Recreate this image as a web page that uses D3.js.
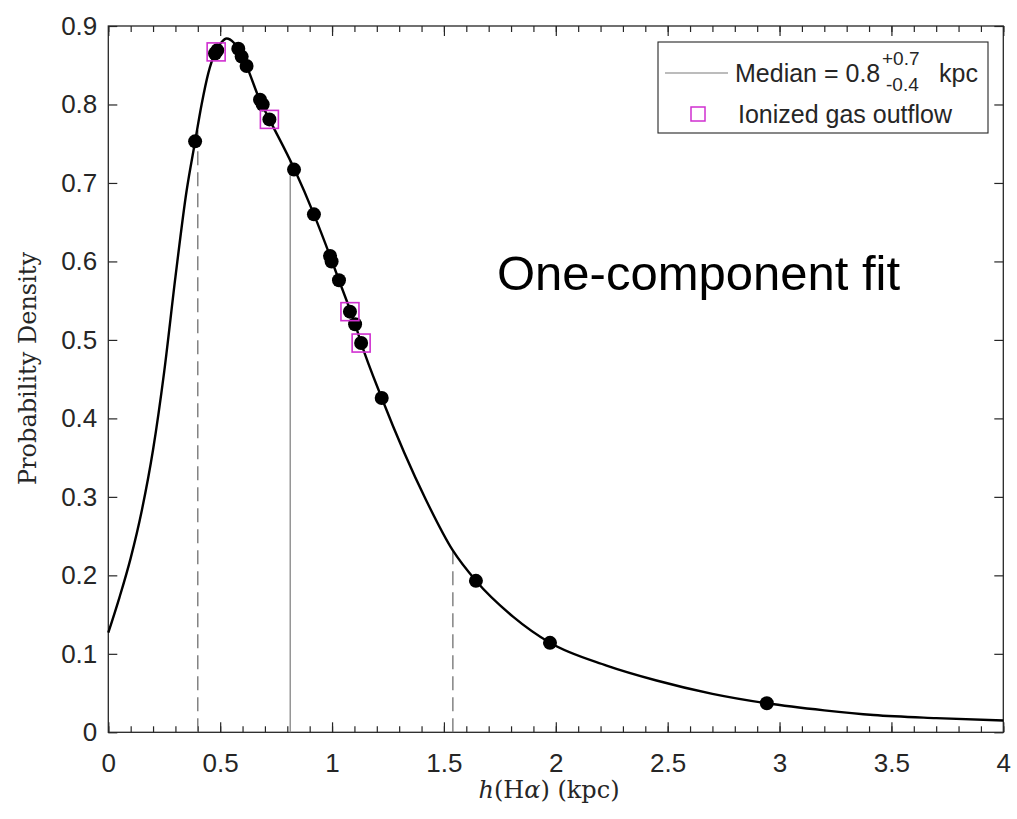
<!DOCTYPE html>
<html><head><meta charset="utf-8">
<script src="https://cdn.jsdelivr.net/npm/d3@7"></script>
<style>body{margin:0;background:#fff}</style>
</head><body>
<svg id="c" width="1017" height="819"></svg>
<script>
// ---- data ----
const curveX = [0, 0.05, 0.1, 0.15, 0.2, 0.25, 0.3, 0.35, 0.388, 0.417, 0.447, 0.477, 0.505, 0.529, 0.56, 0.581, 0.618, 0.678, 0.72, 0.831, 0.919, 0.991, 1.031, 1.103, 1.13, 1.222, 1.42, 1.539, 1.643, 1.81, 1.974, 2.227, 2.45, 2.7, 2.943, 3.2, 3.42, 3.7, 4.0];
const curveY = [0.127, 0.172, 0.222, 0.283, 0.36, 0.46, 0.58, 0.69, 0.753, 0.8, 0.84, 0.866, 0.879, 0.884, 0.879, 0.871, 0.849, 0.805, 0.781, 0.718, 0.660, 0.607, 0.576, 0.520, 0.496, 0.426, 0.296, 0.232, 0.193, 0.147, 0.114, 0.085, 0.066, 0.049, 0.037, 0.028, 0.022, 0.018, 0.015];
const dotX = [0.388, 0.477, 0.487, 0.581, 0.596, 0.618, 0.678, 0.690, 0.720, 0.830, 0.919, 0.991, 0.998, 1.031, 1.080, 1.103, 1.130, 1.222, 1.643, 1.974, 2.943];
const dotY = [0.753, 0.865, 0.869, 0.871, 0.861, 0.849, 0.806, 0.800, 0.781, 0.717, 0.660, 0.607, 0.600, 0.576, 0.536, 0.520, 0.496, 0.426, 0.193, 0.114, 0.037];
const outflowX = [0.482, 0.720, 1.080, 1.130];
const outflowY = [0.867, 0.781, 0.536, 0.496];
const intervalX = [0.40, 1.54];
const intervalTop = [0.772, 0.232];
const medianX = [0.813];
const medianTop = [0.728];
const xTicks = [0, 0.5, 1, 1.5, 2, 2.5, 3, 3.5, 4];
const xTickLabels = ["0", "0.5", "1", "1.5", "2", "2.5", "3", "3.5", "4"];
const xMinorTicks = d3.range(0, 41).map(i => i / 10);
const yTicks = [0, 0.1, 0.2, 0.3, 0.4, 0.5, 0.6, 0.7, 0.8, 0.9];
const yTickLabels = ["0", "0.1", "0.2", "0.3", "0.4", "0.5", "0.6", "0.7", "0.8", "0.9"];
const legendLabels = ["Median = 0.8", "+0.7", "-0.4", "kpc", "Ionized gas outflow"];
const annotation = "One-component fit";

// ---- layout ----
const L = 108.3, R = 1003.3, T = 26, B = 732.3;
const svg = d3.select("#c");
const x = d3.scaleLinear().domain([0, 4]).range([L, R]);
const y = d3.scaleLinear().domain([0, 0.9]).range([B, T]);
const sans = "'Liberation Sans', Arial, Helvetica, sans-serif";
const serif = "'DejaVu Serif', 'Liberation Serif', serif";
const ink = "#262626";

svg.append("rect").attr("width", 1017).attr("height", 819).attr("fill", "#fff");

function styleAxis(g) {
  g.select(".domain").remove();
  g.selectAll(".tick line").attr("stroke", ink).attr("stroke-width", 1.2);
  g.selectAll(".tick text").attr("fill", ink).attr("font-family", sans).attr("font-size", 26);
}
svg.append("g").attr("transform", `translate(0,${B})`)
  .call(d3.axisBottom(x).tickValues(xMinorTicks).tickSize(-6).tickFormat("")).call(styleAxis);
svg.append("g").attr("transform", `translate(0,${T})`)
  .call(d3.axisTop(x).tickValues(xMinorTicks).tickSize(-6).tickFormat("")).call(styleAxis);
svg.append("g").attr("transform", `translate(0,${B})`)
  .call(d3.axisBottom(x).tickValues(xTicks).tickSize(-10).tickPadding(21)
    .tickFormat((d, i) => xTickLabels[i])).call(styleAxis);
svg.append("g").attr("transform", `translate(0,${T})`)
  .call(d3.axisTop(x).tickValues(xTicks).tickSize(-10).tickFormat("")).call(styleAxis);
svg.append("g").attr("transform", `translate(${L},0)`)
  .call(d3.axisLeft(y).tickValues(yTicks).tickSize(-9).tickPadding(11)
    .tickFormat((d, i) => yTickLabels[i])).call(styleAxis);
svg.append("g").attr("transform", `translate(${R},0)`)
  .call(d3.axisRight(y).tickValues(yTicks).tickSize(-9).tickFormat("")).call(styleAxis);

svg.append("rect").attr("x", L).attr("y", T).attr("width", R - L).attr("height", B - T)
  .attr("fill", "none").attr("stroke", ink).attr("stroke-width", 1.3);

// vertical lines
svg.selectAll("line.iv").data(intervalX).join("line").attr("class", "iv")
  .attr("x1", d => x(d)).attr("x2", d => x(d))
  .attr("y1", y(0)).attr("y2", (d, i) => y(intervalTop[i]))
  .attr("stroke", "#707070").attr("stroke-width", 1.3).attr("stroke-dasharray", "14,7");
svg.selectAll("line.md").data(medianX).join("line").attr("class", "md")
  .attr("x1", d => x(d)).attr("x2", d => x(d))
  .attr("y1", y(0)).attr("y2", (d, i) => y(medianTop[i]))
  .attr("stroke", "#858585").attr("stroke-width", 1.3);

// curve
const pts = curveX.map((v, i) => [v, curveY[i]]);
svg.append("path").datum(pts)
  .attr("d", d3.line().x(d => x(d[0])).y(d => y(d[1])).curve(d3.curveMonotoneX))
  .attr("fill", "none").attr("stroke", "#000").attr("stroke-width", 2.4);

// dots
svg.selectAll("circle.dot").data(dotX).join("circle").attr("class", "dot")
  .attr("cx", d => x(d)).attr("cy", (d, i) => y(dotY[i])).attr("r", 7).attr("fill", "#000");

// outflow squares
const S = 18;
svg.selectAll("rect.sq").data(outflowX).join("rect").attr("class", "sq")
  .attr("x", d => x(d) - S / 2).attr("y", (d, i) => y(outflowY[i]) - S / 2)
  .attr("width", S).attr("height", S)
  .attr("fill", "none").attr("stroke", "#d02fd0").attr("stroke-width", 1.6);

// axis labels
const xl = svg.append("text").attr("x", 549).attr("y", 798).attr("text-anchor", "middle")
  .attr("font-family", serif).attr("font-size", 24).attr("fill", ink);
xl.append("tspan").attr("font-style", "italic").text("h");
xl.append("tspan").text("(H");
xl.append("tspan").attr("font-style", "italic").text("α");
xl.append("tspan").text(")  (kpc)");

svg.append("text").attr("transform", `translate(36,368.5) rotate(-90)`)
  .attr("text-anchor", "middle").attr("font-family", serif).attr("font-size", 24).attr("fill", ink)
  .text("Probability Density");

// annotation
svg.append("text").attr("x", 497).attr("y", 290).attr("font-family", sans).attr("font-size", 49)
  .attr("fill", "#000").text(annotation);

// legend
const lg = svg.append("g");
lg.append("rect").attr("x", 658).attr("y", 42).attr("width", 330).attr("height", 91)
  .attr("fill", "#fff").attr("stroke", ink).attr("stroke-width", 1.1);
lg.append("line").attr("x1", 665).attr("x2", 728).attr("y1", 73).attr("y2", 73)
  .attr("stroke", "#7a7a7a").attr("stroke-width", 1.2);
lg.append("text").attr("x", 735).attr("y", 82).attr("font-family", sans).attr("font-size", 25)
  .attr("fill", ink).text(legendLabels[0]);
lg.append("text").attr("x", 882).attr("y", 65).attr("font-family", sans).attr("font-size", 19)
  .attr("fill", ink).text(legendLabels[1]);
lg.append("text").attr("x", 886).attr("y", 91).attr("font-family", sans).attr("font-size", 19)
  .attr("fill", ink).text(legendLabels[2]);
lg.append("text").attr("x", 939).attr("y", 82).attr("font-family", sans).attr("font-size", 25)
  .attr("fill", ink).text(legendLabels[3]);
lg.append("rect").attr("x", 691).attr("y", 107).attr("width", 14).attr("height", 14)
  .attr("fill", "none").attr("stroke", "#d02fd0").attr("stroke-width", 1.5);
lg.append("text").attr("x", 738).attr("y", 123).attr("font-family", sans).attr("font-size", 25)
  .attr("fill", ink).text(legendLabels[4]);
</script>
</body></html>
